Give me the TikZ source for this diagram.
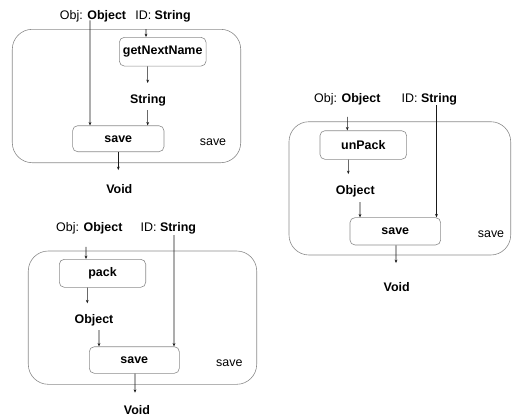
\documentclass[tikz,border=0pt]{standalone}
\usepackage{fontspec}
\setmainfont{Liberation Sans}
\usetikzlibrary{arrows.meta}
\begin{document}
\begin{tikzpicture}[x=1bp,y=-1bp,
  every node/.style={font=\fontsize{12.5}{15}\selectfont},
  lbl/.style={anchor=base,inner sep=0pt},
  outerbox/.style={draw=black!45,line width=0.6bp,rounded corners=20bp,inner sep=0pt},
  fnbox/.style={draw=black!45,line width=0.6bp,rounded corners=5bp,inner sep=0pt,font=\fontsize{12.5}{15}\selectfont\bfseries},
  arr/.style={draw=black!90,line width=0.55bp,-{Stealth[length=3.4bp,width=2.8bp]}}]
\useasboundingbox[fill=white] (0,0) rectangle (514,419);
% ---------- diagram 1 ----------
\node[outerbox,minimum width=228.4bp,minimum height=133.4bp] (outer1) at (126.5,96) {};
\node[lbl] (o1) at (93,19.3) {Obj: \textbf{Object}};
\node[lbl] (i1) at (163,19.3) {ID: \textbf{String}};
\node[fnbox,minimum width=86.7bp,minimum height=28.7bp] (g1) at (162.7,51.7) {getNextName};
\node[lbl] (str1) at (148,103.5) {\textbf{String}};
\node[fnbox,minimum width=91.3bp,minimum height=26bp] (s1) at (118.3,138.7) {save};
\node[lbl] (l1) at (213,145.3) {save};
\node[lbl] (v1) at (119.3,193.5) {\textbf{Void}};
\draw[arr] ([xshift=-3bp,yshift=-1bp]o1.base) -- ([xshift=-28.3bp]s1.north);
\draw[arr] ([xshift=19.5bp]outer1.north) -- ([xshift=-16.7bp]g1.north);
\draw[arr] ([xshift=-15bp]g1.south) -- ([xshift=-0.3bp,yshift=20.5bp]str1.base);
\draw[arr] ([xshift=-0.3bp,yshift=-6.5bp]str1.base) -- ([xshift=29.4bp]s1.north);
\draw[arr] (s1.south) -- ([xshift=-1bp,yshift=23.5bp]v1.base);
% ---------- diagram 2 ----------
\node[outerbox,minimum width=221.7bp,minimum height=133.3bp] (outer2) at (399.85,188.35) {};
\node[lbl] (o2) at (347.3,102.8) {Obj: \textbf{Object}};
\node[lbl] (i2) at (429.3,102.8) {ID: \textbf{String}};
\node[fnbox,minimum width=86.7bp,minimum height=28.6bp] (u2) at (363.3,145) {unPack};
\node[lbl] (ob2) at (355.3,194.5) {\textbf{Object}};
\node[fnbox,minimum width=90.7bp,minimum height=27.3bp] (s2) at (395.3,231.3) {save};
\node[lbl] (l2) at (491,237.6) {save};
\node[lbl] (v2) at (396.7,291.2) {\textbf{Void}};
\draw[arr] ([yshift=-14bp]o2.base) -- ([xshift=-16bp]u2.north);
\draw[arr] ([xshift=-15bp]u2.south) -- ([xshift=-7bp,yshift=20.5bp]ob2.base);
\draw[arr] ([xshift=4.7bp,yshift=-7.5bp]ob2.base) -- ([xshift=-35.3bp]s2.north);
\draw[arr] ([xshift=7.2bp,yshift=-2.2bp]i2.base) -- ([xshift=41.2bp]s2.north);
\draw[arr] ([xshift=0.7bp]s2.south) -- ([xshift=-0.7bp,yshift=28.2bp]v2.base);
% ---------- diagram 3 ----------
\node[outerbox,minimum width=228.4bp,minimum height=133.3bp] (outer3) at (142.5,317.65) {};
\node[lbl] (o3) at (89.3,231.8) {Obj: \textbf{Object}};
\node[lbl] (i3) at (168.3,231.8) {ID: \textbf{String}};
\node[fnbox,minimum width=86.4bp,minimum height=28bp] (p3) at (102.5,273.3) {pack};
\node[lbl] (ob3) at (94,323.5) {\textbf{Object}};
\node[fnbox,minimum width=90bp,minimum height=26.6bp] (s3) at (134.3,360) {save};
\node[lbl] (l3) at (229.3,366.6) {save};
\node[lbl] (v3) at (137,414.5) {\textbf{Void}};
\draw[arr] ([xshift=-3.3bp,yshift=-15bp]o3.base) -- ([xshift=-16.5bp]p3.north);
\draw[arr] ([xshift=-15.2bp]p3.south) -- ([xshift=-6.7bp,yshift=20.2bp]ob3.base);
\draw[arr] ([xshift=5bp,yshift=-6.5bp]ob3.base) -- ([xshift=-35.3bp]s3.north);
\draw[arr] ([xshift=5.7bp,yshift=-3.2bp]i3.base) -- ([xshift=39.7bp]s3.north);
\draw[arr] ([xshift=0.7bp]s3.south) -- ([xshift=-2bp,yshift=21.8bp]v3.base);
\end{tikzpicture}
\end{document}
